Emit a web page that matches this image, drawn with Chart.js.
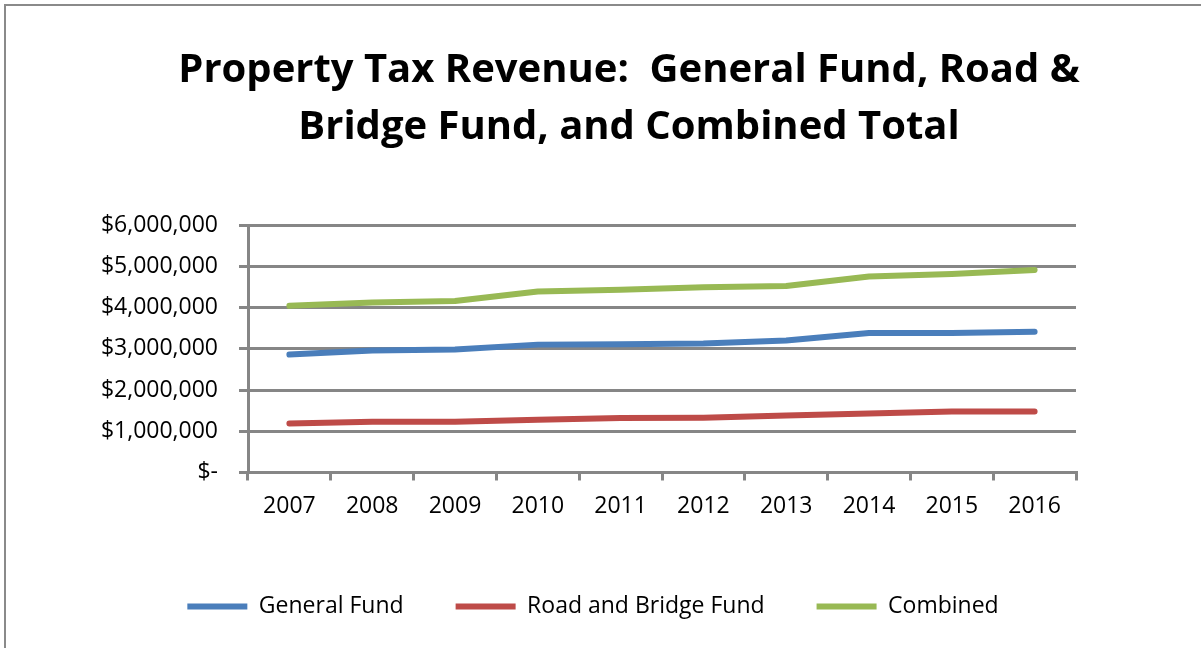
<!DOCTYPE html>
<html>
<head>
<meta charset="utf-8">
<script src="https://cdn.jsdelivr.net/npm/chart.js@4/dist/chart.umd.min.js"></script>
<style>
  html, body { margin: 0; padding: 0; background: #fff; overflow: hidden; }
  #frame { position: absolute; left: 4px; top: 4px; width: 1300px; height: 700px; border: 2px solid #8a8a8a; box-sizing: border-box; }
  #wrap { position: absolute; left: 0; top: 0; width: 1201px; height: 648px; }
  #title {
    position: absolute; left: 0; top: 38px; width: 1258px;
    text-align: center; font-family: 'Open Sans', sans-serif; font-weight: bold;
    font-size: 40px; line-height: 57px; color: #000; white-space: pre;
  }
</style>
</head>
<body>
<div id="frame"></div>
<div id="wrap"><canvas id="chart"></canvas></div>
<div id="title">Property Tax Revenue:  General Fund, Road &amp;
Bridge Fund, and Combined Total</div>
<script>
// values
const years = ['2007', '2008', '2009', '2010', '2011', '2012', '2013', '2014', '2015', '2016']
const generalFund = [2860000, 2960000, 2980000, 3100000, 3110000, 3130000, 3200000, 3380000, 3380000, 3410000]
const roadBridgeFund = [1190000, 1230000, 1230000, 1280000, 1320000, 1330000, 1380000, 1430000, 1480000, 1480000]
const combined = [4040000, 4120000, 4160000, 4390000, 4430000, 4490000, 4520000, 4750000, 4810000, 4910000]
const yTicks = [0, 1000000, 2000000, 3000000, 4000000, 5000000, 6000000]

const gridGray = '#868686'

Chart.defaults.font.family = "'Open Sans', sans-serif"
Chart.defaults.color = '#000'

const lineSet = ( label, data, color ) => ({
  label: label,
  data: data,
  borderColor: color,
  backgroundColor: color,
  borderWidth: 6,
  borderCapStyle: 'round',
  borderJoinStyle: 'round',
  pointRadius: 0,
  pointHoverRadius: 0,
  pointStyle: 'line',
  tension: 0,
  fill: false
})

const ctx = document.getElementById('chart').getContext('2d')

new Chart(ctx, {
  type: 'line',
  data: {
    labels: years,
    datasets: [
      lineSet('General Fund', generalFund, '#4a7ebb'),
      lineSet('Road and Bridge Fund', roadBridgeFund, '#be4b48'),
      lineSet('Combined', combined, '#98b954')
    ]
  },
  options: {
    responsive: true,
    maintainAspectRatio: false,
    animation: false,
    layout: {
      padding: { left: 0, right: 15, top: 225, bottom: 20 }
    },
    plugins: {
      title: { display: false },
      legend: {
        position: 'bottom',
        labels: {
          usePointStyle: true,
          pointStyleWidth: 60,
          boxHeight: 6,
          padding: 52,
          font: { size: 23 },
          color: '#000'
        }
      },
      tooltip: { enabled: false }
    },
    scales: {
      x: {
        offset: true,
        grid: {
          offset: true,
          drawOnChartArea: false,
          color: gridGray,
          lineWidth: 3,
          tickLength: 8
        },
        border: { color: gridGray, width: 3 },
        ticks: { padding: 12, font: { size: 23 }, maxRotation: 0 },
        afterFit: scale => { scale.height = 70.5 }
      },
      y: {
        min: 0,
        max: 6000000,
        afterBuildTicks: scale => { scale.ticks = yTicks.map( v => ({ value: v }) ) },
        grid: {
          color: gridGray,
          lineWidth: 3,
          tickLength: 9
        },
        border: { color: gridGray, width: 3 },
        ticks: {
          autoSkip: false,
          padding: 21,
          font: { size: 23 },
          callback: v => v === 0 ? '$-' : '$' + v.toLocaleString('en-US')
        },
        afterFit: scale => { scale.width = 248 }
      },
      // empty space on the right of the plot, as in the original layout
      yRight: {
        position: 'right',
        grid: { display: false },
        border: { display: false },
        ticks: { display: false },
        afterFit: scale => { scale.width = 110 }
      }
    }
  }
})
</script>
</body>
</html>
